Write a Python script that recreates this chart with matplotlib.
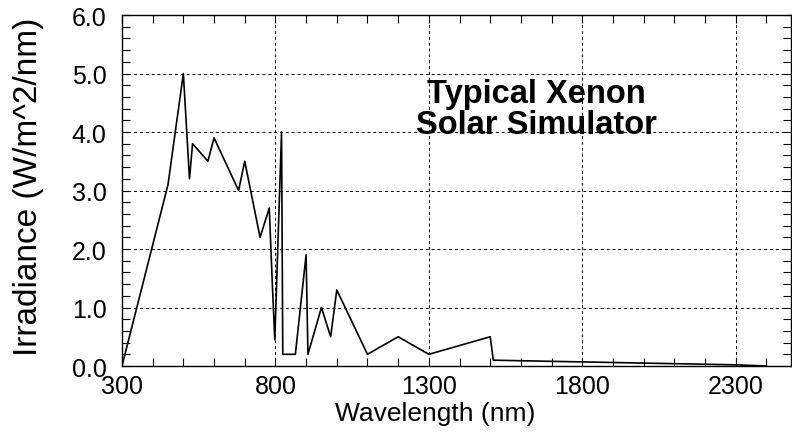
import matplotlib
matplotlib.use('Agg')
import matplotlib.pyplot as plt
from matplotlib.ticker import MultipleLocator, FormatStrFormatter

plt.rcParams['font.family'] = ['Liberation Sans', 'DejaVu Sans']

# xenon lamp spectrum, wavelength in nm and irradiance in W/m^2/nm
wavelength = [300, 450, 500, 520, 530, 580, 600, 680, 700, 750, 780, 790, 798,
              820, 824, 865, 900, 906, 950, 980, 1000, 1100, 1200, 1300, 1500,
              1510, 1600, 1700, 1800, 1900, 2000, 2100, 2200, 2300, 2400]
irradiance = [0.0, 3.1, 5.0, 3.2, 3.8, 3.5, 3.9, 3.0, 3.5, 2.2, 2.7, 1.4, 0.45,
              4.0, 0.2, 0.2, 1.9, 0.2, 1.0, 0.5, 1.3, 0.2, 0.5, 0.2, 0.5,
              0.1, 0.09, 0.08, 0.07, 0.06, 0.05, 0.04, 0.03, 0.02, 0.0]

x_ticks = [300, 800, 1300, 1800, 2300]
annotation = 'Typical Xenon\nSolar Simulator'

fig = plt.figure(figsize=(7.92, 4.35), dpi=100)
ax = fig.add_axes([0.154, 0.1563, 0.8447, 0.8069])

ax.plot(wavelength, irradiance, color='black', linewidth=1.2)

ax.set_xlim(300, 2480)
ax.set_ylim(0, 6)
ax.set_xticks(x_ticks)
ax.xaxis.set_minor_locator(MultipleLocator(100))
ax.yaxis.set_major_locator(MultipleLocator(1))
ax.yaxis.set_minor_locator(MultipleLocator(0.2))
ax.yaxis.set_major_formatter(FormatStrFormatter('%.1f'))

ax.tick_params(which='both', direction='in', top=True, right=True,
               length=6, width=0.8, labelsize=18)
ax.tick_params(axis='x', pad=6)
ax.tick_params(axis='y', pad=11)
ax.grid(True, which='major', color='black', linestyle=(0, (3, 3)), linewidth=0.7)
for s in ax.spines.values():
    s.set_linewidth(1.0)

ax.set_xlabel('Wavelength (nm)', fontsize=19)
ax.xaxis.set_label_coords(0.468, -0.1)
ax.set_ylabel('Irradiance (W/m^2/nm)', fontsize=24)
ax.yaxis.set_label_coords(-0.116, 0.513)

ax.text(1650, 4.39, annotation, fontsize=23.5, fontweight='bold',
        ha='center', va='center', linespacing=0.98)

fig.savefig('out.png', dpi=100)
